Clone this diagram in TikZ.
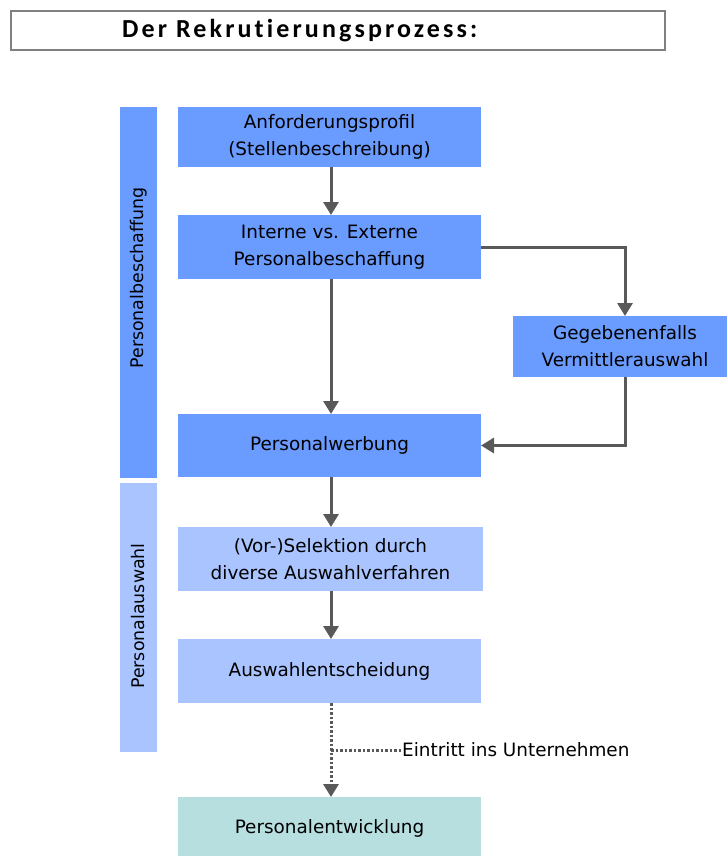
\documentclass[tikz,border=0pt]{standalone}
\usepackage{fontspec}
\setmainfont{DejaVu Sans}
\newfontfamily\titlefont[LetterSpace=12,Ligatures={NoCommon}]{Carlito}
\usetikzlibrary{arrows.meta}
\definecolor{midblue}{HTML}{6A9BFF}
\definecolor{lightblue}{HTML}{A9C4FF}
\definecolor{teal}{HTML}{B7DFE0}
\definecolor{arrowgray}{HTML}{595959}
\definecolor{framegray}{HTML}{808080}
\begin{document}
\begin{tikzpicture}[x=1pt,y=-1pt,
  box/.style={inner sep=0pt, outer sep=0pt, align=center, font=\fontsize{18.4}{27}\selectfont},
  sidetext/.style={rotate=90, font=\fontsize{17.4}{20}\selectfont},
  flow/.style={draw=arrowgray, line width=3pt, -{Triangle[width=15pt,length=13pt]}},
  dotflow/.style={draw=arrowgray, line width=3pt, dash pattern=on 2.5pt off 2pt, -{Triangle[width=15pt,length=13pt]}},
  dotline/.style={draw=arrowgray, line width=3pt, dash pattern=on 2.5pt off 2pt}
]
\useasboundingbox (0,0) rectangle (726,856);
\fill[white] (0,0) rectangle (726,856);
% title
\node[draw=framegray, line width=2pt, minimum width=654pt, minimum height=39pt, inner sep=0pt] (titlebox) at (338,30.5) {};
\node[anchor=west, inner sep=0pt, font=\titlefont\bfseries\fontsize{26}{28}\selectfont] (title) at (122,31) {Der Rekrutierungsprozess:};
% side bands
\fill[midblue] (120,107) rectangle (157,478);
\node[sidetext] (bandA) at (138.5,278) {Personalbeschaffung};
\fill[lightblue] (120,483) rectangle (157,752);
\node[sidetext] (bandB) at (138.5,616) {Personalauswahl};
% boxes
\node[box, fill=midblue, minimum width=303pt, minimum height=60pt] (b1) at (329.5,137) {Anforderungsprofil\\(Stellenbeschreibung)};
\node[box, fill=midblue, minimum width=303pt, minimum height=64pt] (b2) at (329.5,247) {Interne vs. Externe\\Personalbeschaffung};
\node[box, fill=midblue, minimum width=224pt, minimum height=61pt] (gg) at (625,346.5) {Gegebenenfalls\\Vermittlerauswahl};
\node[box, fill=midblue, minimum width=303pt, minimum height=63pt] (pw) at (329.5,445.5) {Personalwerbung};
\node[box, fill=lightblue, minimum width=305pt, minimum height=64pt] (vs) at (330.5,559) {(Vor-)Selektion durch\\diverse Auswahlverfahren};
\node[box, fill=lightblue, minimum width=303pt, minimum height=64pt] (ae) at (329.5,671) {Auswahlentscheidung};
\node[box, fill=teal, minimum width=303pt, minimum height=62pt] (pe) at (329.5,828) {Personalentwicklung};
% connectors
\draw[flow] (b1.south -| 331,0) -- (b2.north -| 331,0);
\draw[flow] (b2.south -| 331,0) -- (pw.north -| 331,0);
\draw[flow] (b2.east) -| (gg.north);
\draw[flow] (gg.south) |- (pw.east);
\draw[flow] (pw.south -| 331,0) -- (vs.north -| 331,0);
\draw[flow] (vs.south -| 331,0) -- (ae.north -| 331,0);
\draw[dotflow] (ae.south -| 331,0) -- (pe.north -| 331,0);
\coordinate (branch) at (331,750);
\node[anchor=west, inner sep=0pt, font=\fontsize{18.4}{20}\selectfont] (eintritt) at (402,750) {Eintritt ins Unternehmen};
\draw[dotline] (branch) -- (eintritt.west);
\end{tikzpicture}
\end{document}
